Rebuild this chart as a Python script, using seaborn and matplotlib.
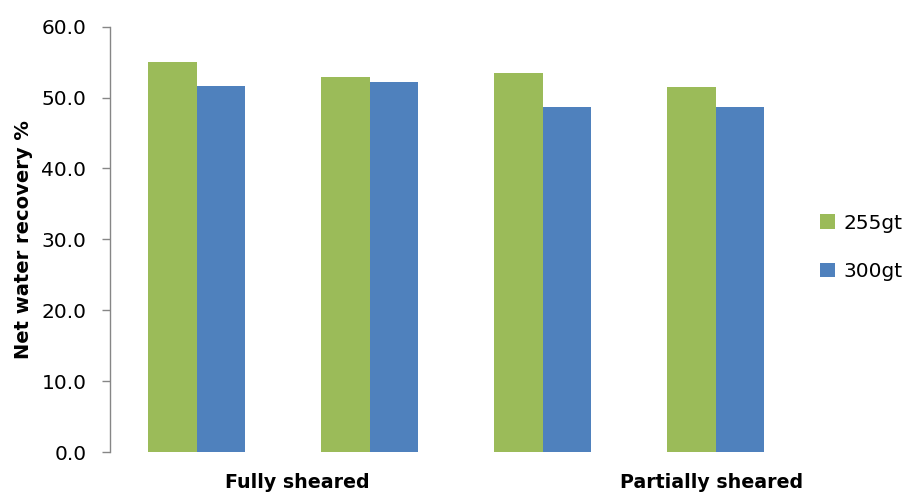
import matplotlib
matplotlib.use("Agg")
import matplotlib.pyplot as plt
import seaborn as sns
import pandas as pd
from matplotlib.patches import Patch

# ---- data ----
groups = ["FS-A", "FS-B", "PS-A", "PS-B"]
series = ["255gt", "300gt"]
vals_255 = [55.0, 52.9, 53.5, 51.5]
vals_300 = [51.6, 52.2, 48.7, 48.7]
xlabels = ["Fully sheared", "Partially sheared"]
yticks = [0, 10, 20, 30, 40, 50, 60]
colors = ["#9BBB59", "#4F81BD"]

df = pd.DataFrame({
    "group": groups * 2,
    "series": [series[0]] * len(groups) + [series[1]] * len(groups),
    "value": vals_255 + vals_300,
})

sns.set_theme(style="white")
plt.rcParams["font.family"] = ["DejaVu Sans"]
plt.rcParams["text.color"] = "black"

fig = plt.figure(figsize=(9.05, 4.94), dpi=100)
ax = fig.add_axes([110 / 905, 42 / 494, 692 / 905, 425.3 / 494])

sns.barplot(data=df, x="group", y="value", hue="series", order=groups,
            hue_order=series, palette=colors, width=0.566, saturation=1,
            linewidth=0, ax=ax, legend=False)

ax.set_ylim(0, 60)
ax.set_xlim(-0.5, 3.5)
ax.set_yticks(yticks)
ax.set_yticklabels([f"{v:.1f}" for v in yticks], fontsize=14.5, color="black")
ax.set_xticks([0.584, 2.977])
ax.set_xticklabels(xlabels, fontsize=13.7, fontweight="bold", color="black")
ax.tick_params(axis="x", length=0, pad=15)
ax.tick_params(axis="y", left=True, length=6, width=1, color="#868686",
               direction="out", pad=11)
ax.set_xlabel("")
ax.set_ylabel("Net water recovery %", fontsize=14, fontweight="bold",
              color="black", labelpad=6)
for s in ["top", "right", "bottom"]:
    ax.spines[s].set_visible(False)
ax.spines["left"].set_color("#868686")
ax.spines["left"].set_linewidth(1)

handles = [Patch(facecolor=c, edgecolor="none") for c in colors]
fig.legend(handles, series, loc="center left", bbox_to_anchor=(820 / 905, 1 - 247.5 / 494),
           frameon=False, fontsize=14.5, labelcolor="black", handlelength=0.75,
           handleheight=0.75, handletextpad=0.4, labelspacing=1.45, borderpad=0,
           borderaxespad=0)

fig.savefig("out.png", dpi=100)
